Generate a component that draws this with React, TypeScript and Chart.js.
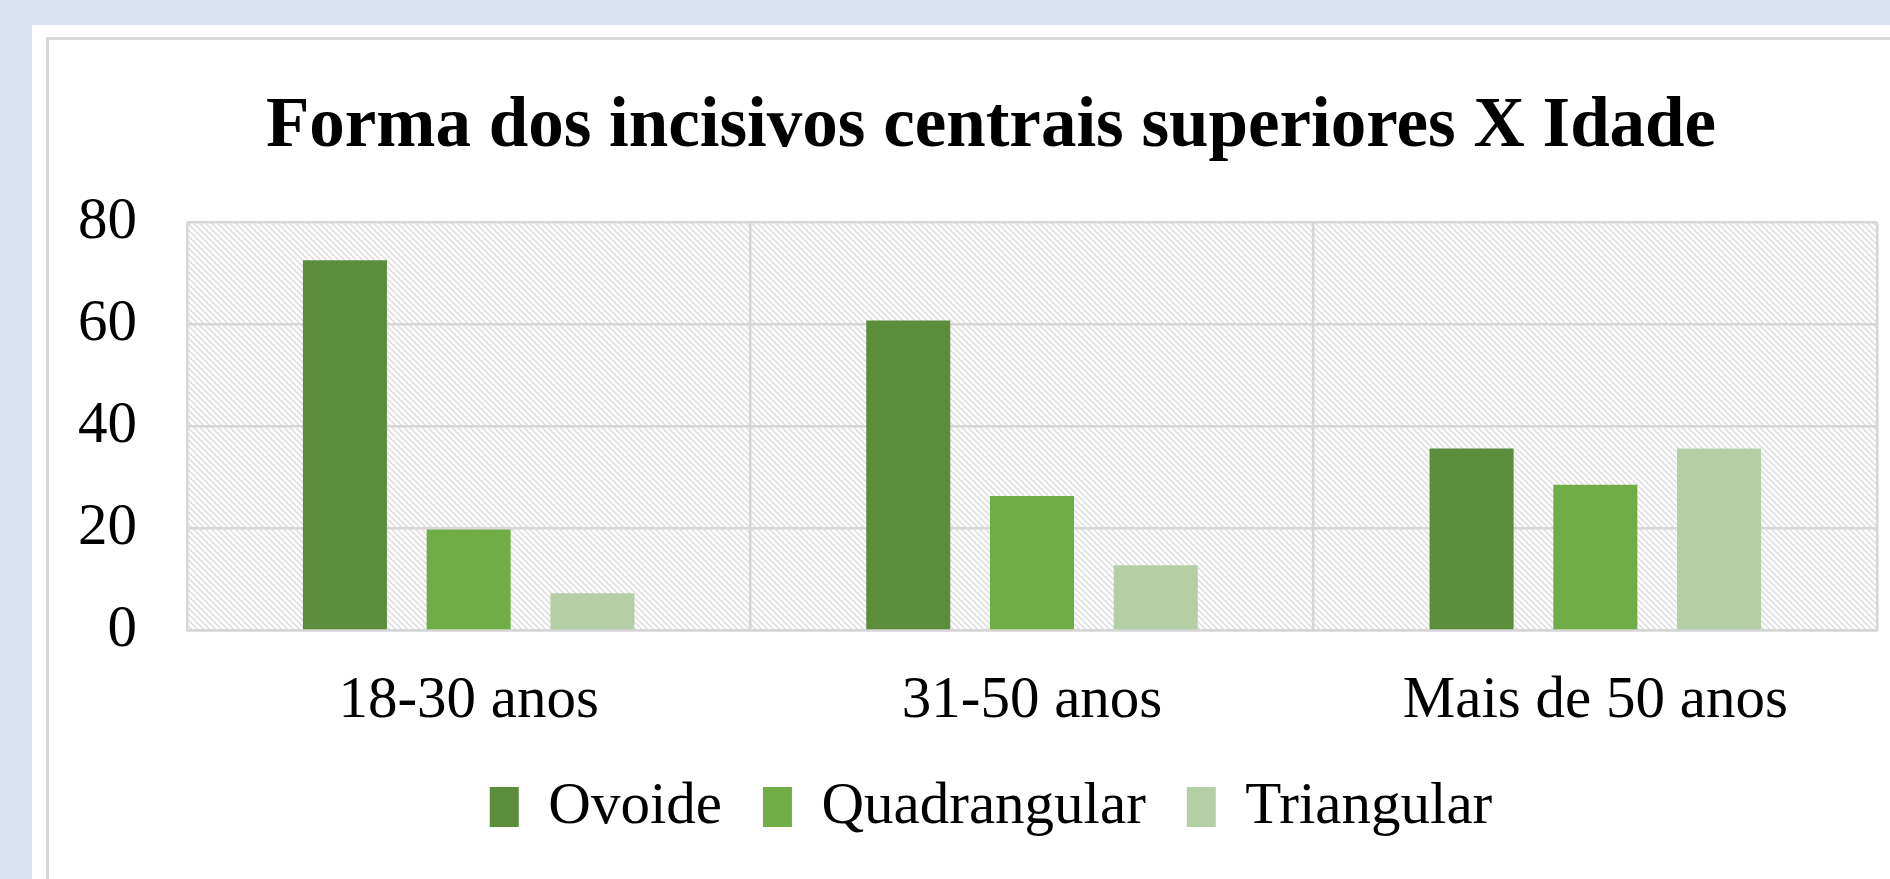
import React, { useEffect, useRef } from "react";
import { Chart, registerables } from "chart.js";

Chart.register(...registerables);

const categories = ["18-30 anos", "31-50 anos", "Mais de 50 anos"];
const ovoide = [72.6, 60.8, 35.7];
const quadrangular = [19.8, 26.4, 28.6];
const triangular = [7.3, 12.8, 35.7];
const seriesNames = ["Ovoide", "Quadrangular", "Triangular"];
const seriesColors = ["#5b8d3b", "#70ad47", "#b4cfa6"];
const yTicks = [0, 20, 40, 60, 80];
const chartTitle = "Forma dos incisivos centrais superiores X Idade";

const W = 1882;
const H = 860;
const FONT = '"Liberation Serif", "Times New Roman", serif';
const GRID = "#d6d6d6";

function makePattern(ctx: CanvasRenderingContext2D) {
  const s = 6;
  const c = document.createElement("canvas");
  c.width = s;
  c.height = s;
  const g = c.getContext("2d")!;
  g.fillStyle = "#ffffff";
  g.fillRect(0, 0, s, s);
  g.strokeStyle = "#d9d9d9";
  g.lineWidth = 1.4;
  g.beginPath();
  for (const o of [-s, 0, s]) {
    g.moveTo(o - 1, -1);
    g.lineTo(o + s + 1, s + 1);
  }
  g.stroke();
  return ctx.createPattern(c, "repeat");
}

const hatchPlugin = {
  id: "hatch",
  beforeDraw(chart: any) {
    const { ctx, chartArea: a } = chart;
    const p = makePattern(ctx);
    if (!p) return;
    ctx.save();
    ctx.translate(a.left, a.top);
    ctx.fillStyle = p;
    ctx.fillRect(0, 0, a.right - a.left, a.bottom - a.top);
    ctx.restore();
  },
};

export default function App() {
  const ref = useRef<HTMLCanvasElement | null>(null);

  useEffect(() => {
    if (!ref.current) return;
    const data = [ovoide, quadrangular, triangular];
    const chart = new Chart(ref.current, {
      type: "bar",
      data: {
        labels: categories,
        datasets: seriesNames.map((name, i) => ({
          label: name,
          data: data[i],
          backgroundColor: seriesColors[i],
          borderWidth: 0,
          categoryPercentage: 0.659,
          barPercentage: 0.679,
        })),
      },
      plugins: [hatchPlugin],
      options: {
        responsive: false,
        maintainAspectRatio: false,
        animation: false,
        events: [],
        layout: { padding: { top: 0, left: 0, right: 0, bottom: 54.5 } },
        plugins: {
          tooltip: { enabled: false },
          title: {
            display: true,
            text: chartTitle,
            color: "#000",
            font: { family: FONT, size: 71, weight: "bold", lineHeight: 1.2 },
            padding: { top: 44, bottom: 52.4 },
          },
          legend: {
            display: true,
            position: "bottom",
            labels: {
              color: "#000",
              font: { family: FONT, size: 59 },
              boxWidth: 29,
              boxHeight: 40,
              padding: 41,
            },
          },
        },
        scales: {
          x: {
            grid: { color: GRID, lineWidth: 2.5, offset: true, drawTicks: false },
            border: { color: GRID, width: 2.5 },
            ticks: { color: "#000", font: { family: FONT, size: 59 }, padding: 36 },
            afterFit: (s: any) => {
              s.height = 106;
            },
          },
          y: {
            min: 0,
            max: 80,
            afterBuildTicks: (s: any) => {
              s.ticks = yTicks.map((v) => ({ value: v }));
            },
            grid: { color: GRID, lineWidth: 2.5, drawTicks: false },
            border: { display: false },
            ticks: { color: "#000", font: { family: FONT, size: 59 }, padding: 50 },
            afterFit: (s: any) => {
              s.width = 137;
            },
          },
          yRight: {
            position: "right",
            grid: { display: false },
            border: { display: false },
            ticks: { display: false },
            afterFit: (s: any) => {
              s.width = 55;
            },
          },
        },
      },
    } as any);
    return () => chart.destroy();
  }, []);

  return (
    <div style={{ position: "fixed", inset: 0, background: "#dae3f3", overflow: "hidden" }}>
      <div style={{ position: "absolute", left: 32, top: 25, width: 2000, height: 1000, background: "#ffffff" }} />
      <div
        style={{
          position: "absolute",
          left: 46,
          top: 37,
          width: 2000,
          height: 1000,
          borderLeft: "3px solid #d9d9d9",
          borderTop: "3px solid #d9d9d9",
        }}
      />
      <canvas
        ref={ref}
        width={W}
        height={H}
        style={{ position: "absolute", left: 50, top: 41, width: W, height: H }}
      />
    </div>
  );
}
